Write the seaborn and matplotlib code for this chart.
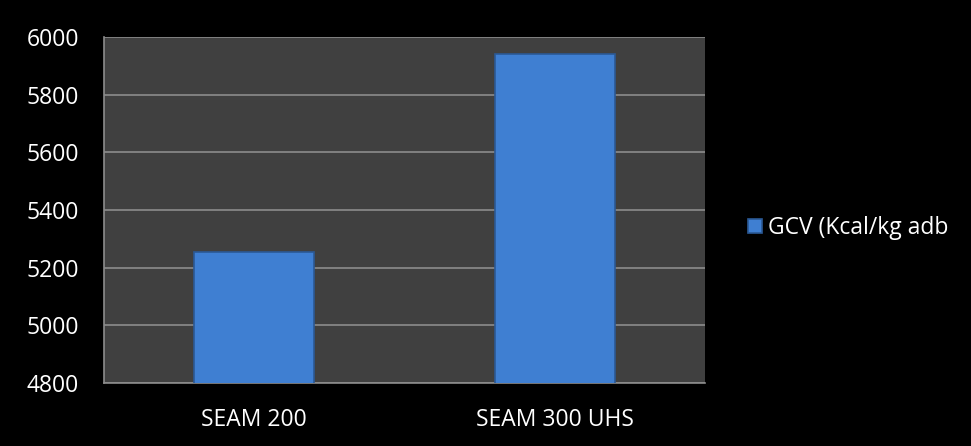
import matplotlib
matplotlib.use("Agg")
import matplotlib.pyplot as plt
import seaborn as sns
import pandas as pd

categories = ["SEAM 200", "SEAM 300 UHS"]
gcv_values = [5255, 5942]
series_name = "GCV (Kcal/kg adb"
y_ticks = [4800, 5000, 5200, 5400, 5600, 5800, 6000]

df = pd.DataFrame({"category": categories, "value": gcv_values, "series": [series_name] * len(categories)})

sns.set_style("dark")
plt.rcParams["font.family"] = ["Open Sans", "DejaVu Sans"]

fig = plt.figure(figsize=(9.71, 4.46), dpi=100, facecolor="black")
ax = fig.add_axes([104 / 971, 1 - 383 / 446, 601 / 971, 346 / 446])
ax.set_facecolor("#404040")

sns.barplot(data=df, x="category", y="value", hue="series", palette=["#3F7FD2"], saturation=1,
            width=0.4, dodge=False, ax=ax, edgecolor="#2B5995", linewidth=1.2, zorder=3)

ax.set_ylim(4800, 6000)
ax.set_yticks(y_ticks)
ax.set_yticklabels([str(t) for t in y_ticks])
ax.grid(axis="y", color="#8C8C8C", linewidth=1.2, zorder=0)
ax.grid(axis="x", visible=False)
ax.set_axisbelow(True)
ax.set_xlabel("")
ax.set_ylabel("")
for side in ["top", "right"]:
    ax.spines[side].set_visible(False)
for side in ["left", "bottom"]:
    ax.spines[side].set_visible(True)
    ax.spines[side].set_color("#8C8C8C")
    ax.spines[side].set_linewidth(1.2)
ax.tick_params(axis="y", colors="white", labelsize=16.5, length=0, pad=18)
ax.tick_params(axis="x", colors="white", labelsize=16.5, length=0, pad=18)

leg = ax.get_legend()
if leg is not None:
    leg.remove()
handles, labels = ax.get_legend_handles_labels()
fig.legend(handles, labels, loc="center left", bbox_to_anchor=(739 / 971, 1 - 228 / 446),
           frameon=False, fontsize=16.5, labelcolor="white", handlelength=0.6, handleheight=0.6,
           handletextpad=0.25, borderaxespad=0)

fig.savefig("out.png", dpi=100, facecolor="black")
